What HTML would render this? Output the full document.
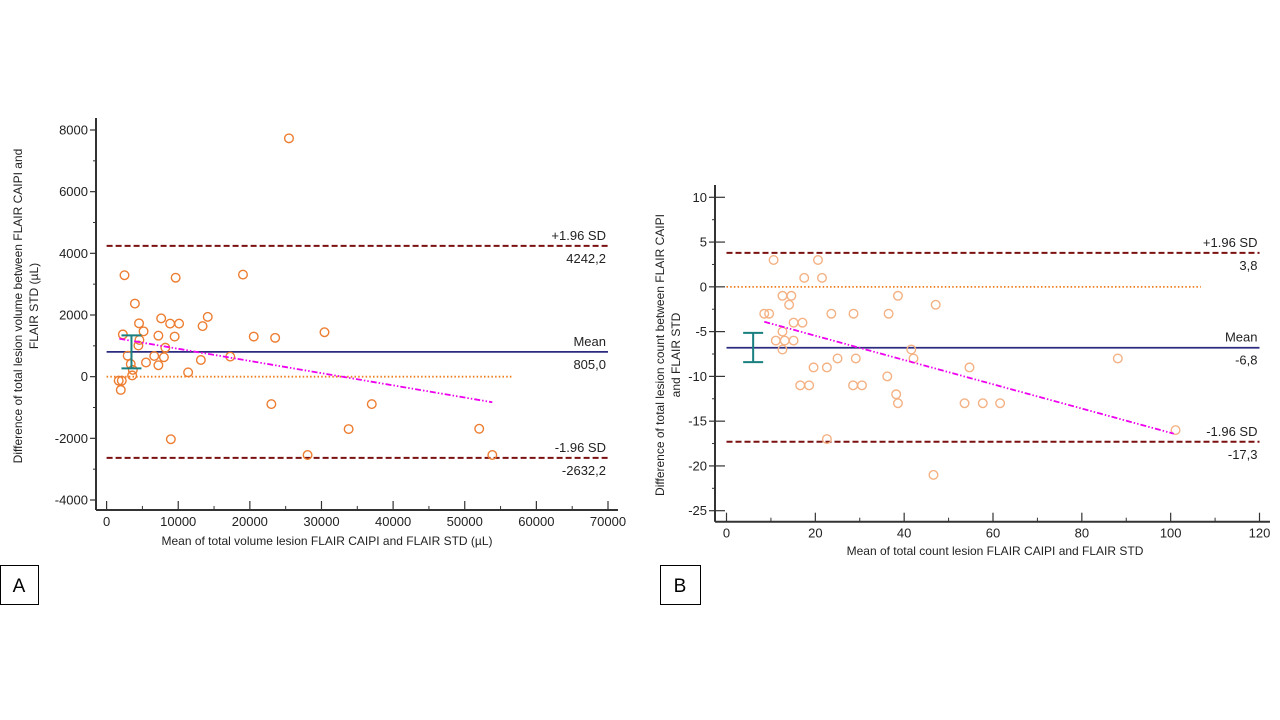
<!DOCTYPE html>
<html><head><meta charset="utf-8">
<style>
body{margin:0;background:#fff;}
svg{display:block;font-family:"Liberation Sans",sans-serif;}
</style></head>
<body>
<svg id="svg" width="1280" height="720" viewBox="0 0 1280 720">
<g id="A"></g>
<g id="B"></g>
<rect x="0.5" y="565.5" width="38" height="39" fill="none" stroke="#000"/>
<text x="19" y="592" font-size="19" text-anchor="middle">A</text>
<rect x="660.5" y="565.5" width="40" height="39" fill="none" stroke="#000"/>
<text x="680" y="592" font-size="19" text-anchor="middle">B</text>
</svg>
<script>
// Panel A data
const aX=[25460,2500,9640,19040,3950,14120,7620,4530,8870,10120,13400,5160,2270,7230,9500,20540,23530,30420,4580,4440,8200,2940,6650,8000,17260,13160,5500,7230,3370,3660,3570,11380,1690,2120,1980,23000,37020,33790,52020,8970,28060,53850];
const aY=[7730,3290,3210,3310,2370,1940,1890,1730,1720,1720,1640,1470,1370,1330,1300,1300,1260,1440,1190,1010,940,680,670,630,650,540,460,370,410,220,40,140,-130,-130,-430,-890,-890,-1700,-1690,-2030,-2540,-2540];
const aXTicks=[0,10000,20000,30000,40000,50000,60000,70000];
const aYTicks=[-4000,-2000,0,2000,4000,6000,8000];
const aStats=[805.0,4242.2,-2632.2];
const aStatLabels=["805,0","4242,2","-2632,2"];
const aReg=[[1780,1230],[53850,-830]];
const aErr=[3470,270,1340];
const aZeroEnd=56750;
// Panel B data
const bX=[10.6,20.6,17.5,21.5,12.6,14.6,38.6,14.1,47.1,8.5,9.6,23.6,28.6,36.5,15.1,17.1,12.6,11.1,13.1,15.1,12.6,41.6,25.0,29.1,42.1,88.1,19.6,22.6,54.7,36.2,16.6,18.6,28.5,30.5,38.2,38.6,53.6,57.7,61.6,101.1,22.6,46.6];
const bY=[3,3,1,1,-1,-1,-1,-2,-2,-3,-3,-3,-3,-3,-4,-4,-5,-6,-6,-6,-7,-7,-8,-8,-8,-8,-9,-9,-9,-10,-11,-11,-11,-11,-12,-13,-13,-13,-13,-16,-17,-21];
const bXTicks=[0,20,40,60,80,100,120];
const bYTicks=[-25,-20,-15,-10,-5,0,5,10];
const bStats=[-6.8,3.8,-17.3];
const bStatLabels=["-6,8","3,8","-17,3"];
const bReg=[[8.5,-3.9],[100.7,-16.4]];
const bErr=[6.0,-8.41,-5.14];
const bZeroEnd=106.8;

const NS="http://www.w3.org/2000/svg";
function mk(parent,tag,attrs,text){const e=document.createElementNS(NS,tag);for(const k in attrs)e.setAttribute(k,attrs[k]);if(text!==undefined)e.textContent=text;parent.appendChild(e);return e;}

function panel(g,cfg){
  const sx=v=>cfg.x0+(v-cfg.xmin)/(cfg.xmax-cfg.xmin)*(cfg.x1-cfg.x0);
  const sy=v=>cfg.y0+(v-cfg.ymin)/(cfg.ymax-cfg.ymin)*(cfg.y1-cfg.y0);
  let e=mk(g,'line',{x1:cfg.ax,y1:cfg.axTop,x2:cfg.ax,y2:cfg.ay,stroke:'#333','stroke-width':2});
  
  
  e=mk(g,'line',{x1:cfg.ax,y1:cfg.ay,x2:cfg.axRight,y2:cfg.ay,stroke:'#333','stroke-width':2});
  
  
  cfg.yTicks.forEach((v,i)=>{
    const y=sy(v);
    mk(g,'line',{x1:cfg.ax-6,y1:y,x2:cfg.ax+(cfg.tickIn||0),y2:y,stroke:'#333','stroke-width':1.2});
    if(i<cfg.yTicks.length-1){const ym=sy((v+cfg.yTicks[i+1])/2);mk(g,'line',{x1:cfg.ax-3,y1:ym,x2:cfg.ax,y2:ym,stroke:'#333','stroke-width':1});}
    const t=mk(g,'text',{x:cfg.ax-8,y:y+4.5,'font-size':13,'text-anchor':'end',fill:'#222'},String(v));
    
    
  });
  cfg.xTicks.forEach((v,i)=>{
    const x=sx(v);
    mk(g,'line',{x1:x,y1:cfg.ay,x2:x,y2:cfg.ay-9,stroke:'#333','stroke-width':1.2});
    if(i<cfg.xTicks.length-1){const xm=sx((v+cfg.xTicks[i+1])/2);mk(g,'line',{x1:xm,y1:cfg.ay,x2:xm,y2:cfg.ay-4,stroke:'#333','stroke-width':1});}
    const t=mk(g,'text',{x:x,y:cfg.ay+16,'font-size':13,'text-anchor':'middle',fill:'#222'},String(v));
    
    
  });
  e=mk(g,'line',{x1:sx(cfg.xmin),y1:sy(0),x2:sx(cfg.zeroEnd),y2:sy(0),stroke:'#f07c1a','stroke-width':1.8,'stroke-dasharray':'1.5 2.2'});
  
  
  const xl=sx(cfg.xmin), xr=sx(cfg.xmax);
  e=mk(g,'line',{x1:xl,y1:sy(cfg.stats[0]),x2:xr,y2:sy(cfg.stats[0]),stroke:'#2b2b7f','stroke-width':1.8});
  
  
  [1,2].forEach(k=>{
    e=mk(g,'line',{x1:xl,y1:sy(cfg.stats[k]),x2:xr,y2:sy(cfg.stats[k]),stroke:'#7a1010','stroke-width':2,'stroke-dasharray':'6 3'});
    
    
  });
  const lbl=["Mean","+1.96 SD","-1.96 SD"];
  [0,1,2].forEach(k=>{
    const y=sy(cfg.stats[k]);
    let t=mk(g,'text',{x:xr-2,y:y-6,'font-size':13,'text-anchor':'end',fill:'#222'},lbl[k]);
    
    
    t=mk(g,'text',{x:xr-2,y:y+17,'font-size':13,'text-anchor':'end',fill:'#222'},cfg.statLabels[k]);
    
    
  });
  cfg.px.forEach((v,i)=>{
    const c=mk(g,'circle',{cx:sx(v),cy:sy(cfg.py[i]),r:4.3,fill:'none',stroke:cfg.pc,'stroke-width':1.4});
    
    
  });
  e=mk(g,'line',{x1:sx(cfg.reg[0][0]),y1:sy(cfg.reg[0][1]),x2:sx(cfg.reg[1][0]),y2:sy(cfg.reg[1][1]),stroke:'#ee00ee','stroke-width':1.8,'stroke-dasharray':'6 2 1.5 2 1.5 2'});
  
  
  const ex=sx(cfg.err[0]),ea=sy(cfg.err[1]),eb=sy(cfg.err[2]);
  const eg=mk(g,'g',{stroke:'#1a7f7f','stroke-width':2});
  
  
  mk(eg,'line',{x1:ex,y1:ea,x2:ex,y2:eb});
  mk(eg,'line',{x1:ex-10,y1:ea,x2:ex+10,y2:ea});
  mk(eg,'line',{x1:ex-10,y1:eb,x2:ex+10,y2:eb});
  let t=mk(g,'text',{x:cfg.xtX,y:cfg.xtY,'font-size':12,'text-anchor':'middle',fill:'#222'},cfg.xTitle);
  
  
  const yt=mk(g,'text',{transform:`translate(${cfg.ytX},${cfg.ytY}) rotate(-90)`,'font-size':12,'text-anchor':'middle',fill:'#222'});
  
  
  mk(yt,'tspan',{x:0,dy:0},cfg.yTitle[0]);
  mk(yt,'tspan',{x:0,dy:16},cfg.yTitle[1]);
}

panel(document.getElementById('A'),{xmin:0,xmax:70000,x0:106.6,x1:608,ymin:-4000,ymax:8000,y0:500,y1:130,
  ax:96,ay:510,axTop:118,axRight:618,xTicks:aXTicks,yTicks:aYTicks,stats:aStats,statLabels:aStatLabels,
  px:aX,py:aY,pc:'#ed7d31',reg:aReg,err:aErr,zeroEnd:aZeroEnd,
  xTitle:"Mean of total volume lesion FLAIR CAIPI and FLAIR STD (µL)",xtX:327,xtY:545,
  yTitle:["Difference of total lesion volume between FLAIR CAIPI and","FLAIR STD (µL)"],ytX:22,ytY:306});
panel(document.getElementById('B'),{xmin:0,xmax:120,x0:726.5,x1:1259.5,ymin:-25,ymax:10,y0:510.7,y1:197.3,
  ax:715,ay:521.7,axTop:185,axRight:1270,xTicks:bXTicks,yTicks:bYTicks,stats:bStats,statLabels:bStatLabels,
  px:bX,py:bY,pc:'#f4b183',reg:bReg,err:bErr,zeroEnd:bZeroEnd,tickIn:10,
  xTitle:"Mean of total count lesion FLAIR CAIPI and FLAIR STD",xtX:995,xtY:555,
  yTitle:["Difference of total lesion count between FLAIR CAIPI","and FLAIR STD"],ytX:664,ytY:355});
</script>
</body></html>
